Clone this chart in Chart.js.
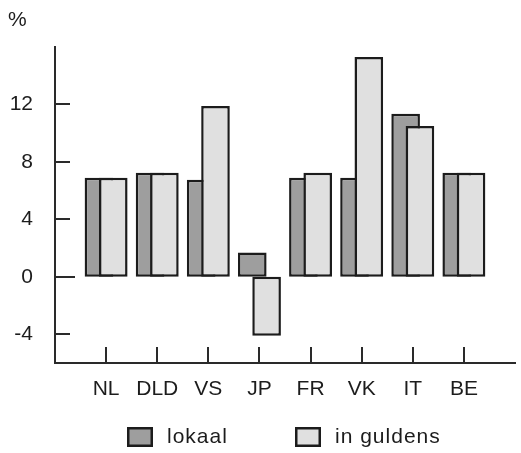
<!DOCTYPE html>
<html>
<head>
<meta charset="utf-8">
<script src="https://cdn.jsdelivr.net/npm/chart.js@4.4.1/dist/chart.umd.min.js"></script>
<style>
    html, body { margin: 0; padding: 0; background: #fff; }
    #wrap { width: 521px; height: 453px; position: relative; }
</style>
</head>
<body>
<div id="wrap"><canvas id="rateChart"></canvas></div>
<script>
const countries = ['NL', 'DLD', 'VS', 'JP', 'FR', 'VK', 'IT', 'BE'];
const lokaal = [6.9, 7.25, 6.75, 1.7, 6.9, 6.9, 11.35, 7.25];
const inGuldens = [6.9, 7.25, 11.9, -4.1, 7.25, 15.3, 10.5, 7.25];
const yTicks = [-4, 0, 4, 8, 12];
const seriesNames = ['lokaal', 'in guldens'];
const unitLabel = '%';

const FONT = '"Liberation Sans", Arial, sans-serif';
const INK = '#1c1c1c';
const DARK = '#9e9e9e';
const LIGHT = '#e0e0e0';

// empty slot on both sides so the axis runs past the first and last country
const labels = ['', ...countries, ''];
const pad = (arr) => [null, ...arr, null];

const axisMarks = {
    id: 'axisMarks',
    beforeDatasetsDraw(chart) {
        // dark bars sit underneath the light ones
        const meta = chart.getDatasetMeta(0);
        if (!meta.hidden) meta.controller.draw();
    },
    beforeDatasetDraw(chart, args) {
        if (args.index === 0) return false;
    },
    afterDraw(chart) {
        const { ctx, chartArea, scales } = chart;
        ctx.save();
        ctx.strokeStyle = '#2a2a2a';
        ctx.lineWidth = 2;
        ctx.beginPath();
        yTicks.forEach((v) => {
            const y = Math.round(scales.y.getPixelForValue(v));
            ctx.moveTo(chartArea.left, y);
            ctx.lineTo(chartArea.left + (v === 0 ? 20 : 15), y);
        });
        countries.forEach((c, i) => {
            const x = Math.round(scales.x.getPixelForValue(i + 1));
            ctx.moveTo(x, chartArea.bottom);
            ctx.lineTo(x, chartArea.bottom - 16);
        });
        ctx.stroke();

        ctx.fillStyle = INK;
        ctx.font = `21px ${FONT}`;
        ctx.textBaseline = 'middle';
        ctx.textAlign = 'left';
        ctx.fillText(unitLabel, 8, 20);

        // legend
        const fills = [DARK, LIGHT];
        const starts = [chartArea.left + 72, chartArea.left + 240];
        const cy = 437;
        ctx.letterSpacing = '1px';
        seriesNames.forEach((name, i) => {
            const x = starts[i];
            ctx.fillStyle = fills[i];
            ctx.fillRect(x, cy - 10, 26, 20);
            ctx.strokeStyle = INK;
            ctx.lineWidth = 2.5;
            ctx.strokeRect(x + 1.25, cy - 8.75, 23.5, 17.5);
            ctx.fillStyle = INK;
            ctx.fillText(name, x + 40, cy);
        });
        ctx.restore();
    },
};

const chart = new Chart(document.getElementById('rateChart'), {
    type: 'bar',
    data: {
        labels,
        datasets: [
            {
                label: seriesNames[0],
                data: pad(lokaal),
                backgroundColor: DARK,
                borderColor: INK,
                borderWidth: 2.5,
                borderSkipped: false,
            },
            {
                label: seriesNames[1],
                data: pad(inGuldens),
                backgroundColor: LIGHT,
                borderColor: INK,
                borderWidth: 2.5,
                borderSkipped: false,
            },
        ],
    },
    options: {
        responsive: true,
        maintainAspectRatio: false,
        animation: false,
        categoryPercentage: 0.56,
        barPercentage: 2.0,
        layout: { padding: { top: 47, right: 0, left: 0, bottom: 0 } },
        scales: {
            x: {
                offset: false,
                grid: { display: false },
                border: { color: '#2a2a2a', width: 2 },
                ticks: {
                    color: INK,
                    font: { family: FONT, size: 21 },
                    padding: 6,
                    maxRotation: 0,
                    autoSkip: false,
                },
                afterFit: (scale) => { scale.height = 90; },
            },
            y: {
                min: -6,
                max: 16,
                grid: { display: false },
                border: { color: '#2a2a2a', width: 2 },
                ticks: {
                    color: INK,
                    font: { family: FONT, size: 21 },
                    padding: 14,
                },
                afterBuildTicks: (scale) => { scale.ticks = yTicks.map((value) => ({ value })); },
                afterFit: (scale) => { scale.width = 55; },
            },
        },
        plugins: {
            legend: { display: false },
            tooltip: { enabled: false },
        },
    },
    plugins: [axisMarks],
});
</script>
</body>
</html>
